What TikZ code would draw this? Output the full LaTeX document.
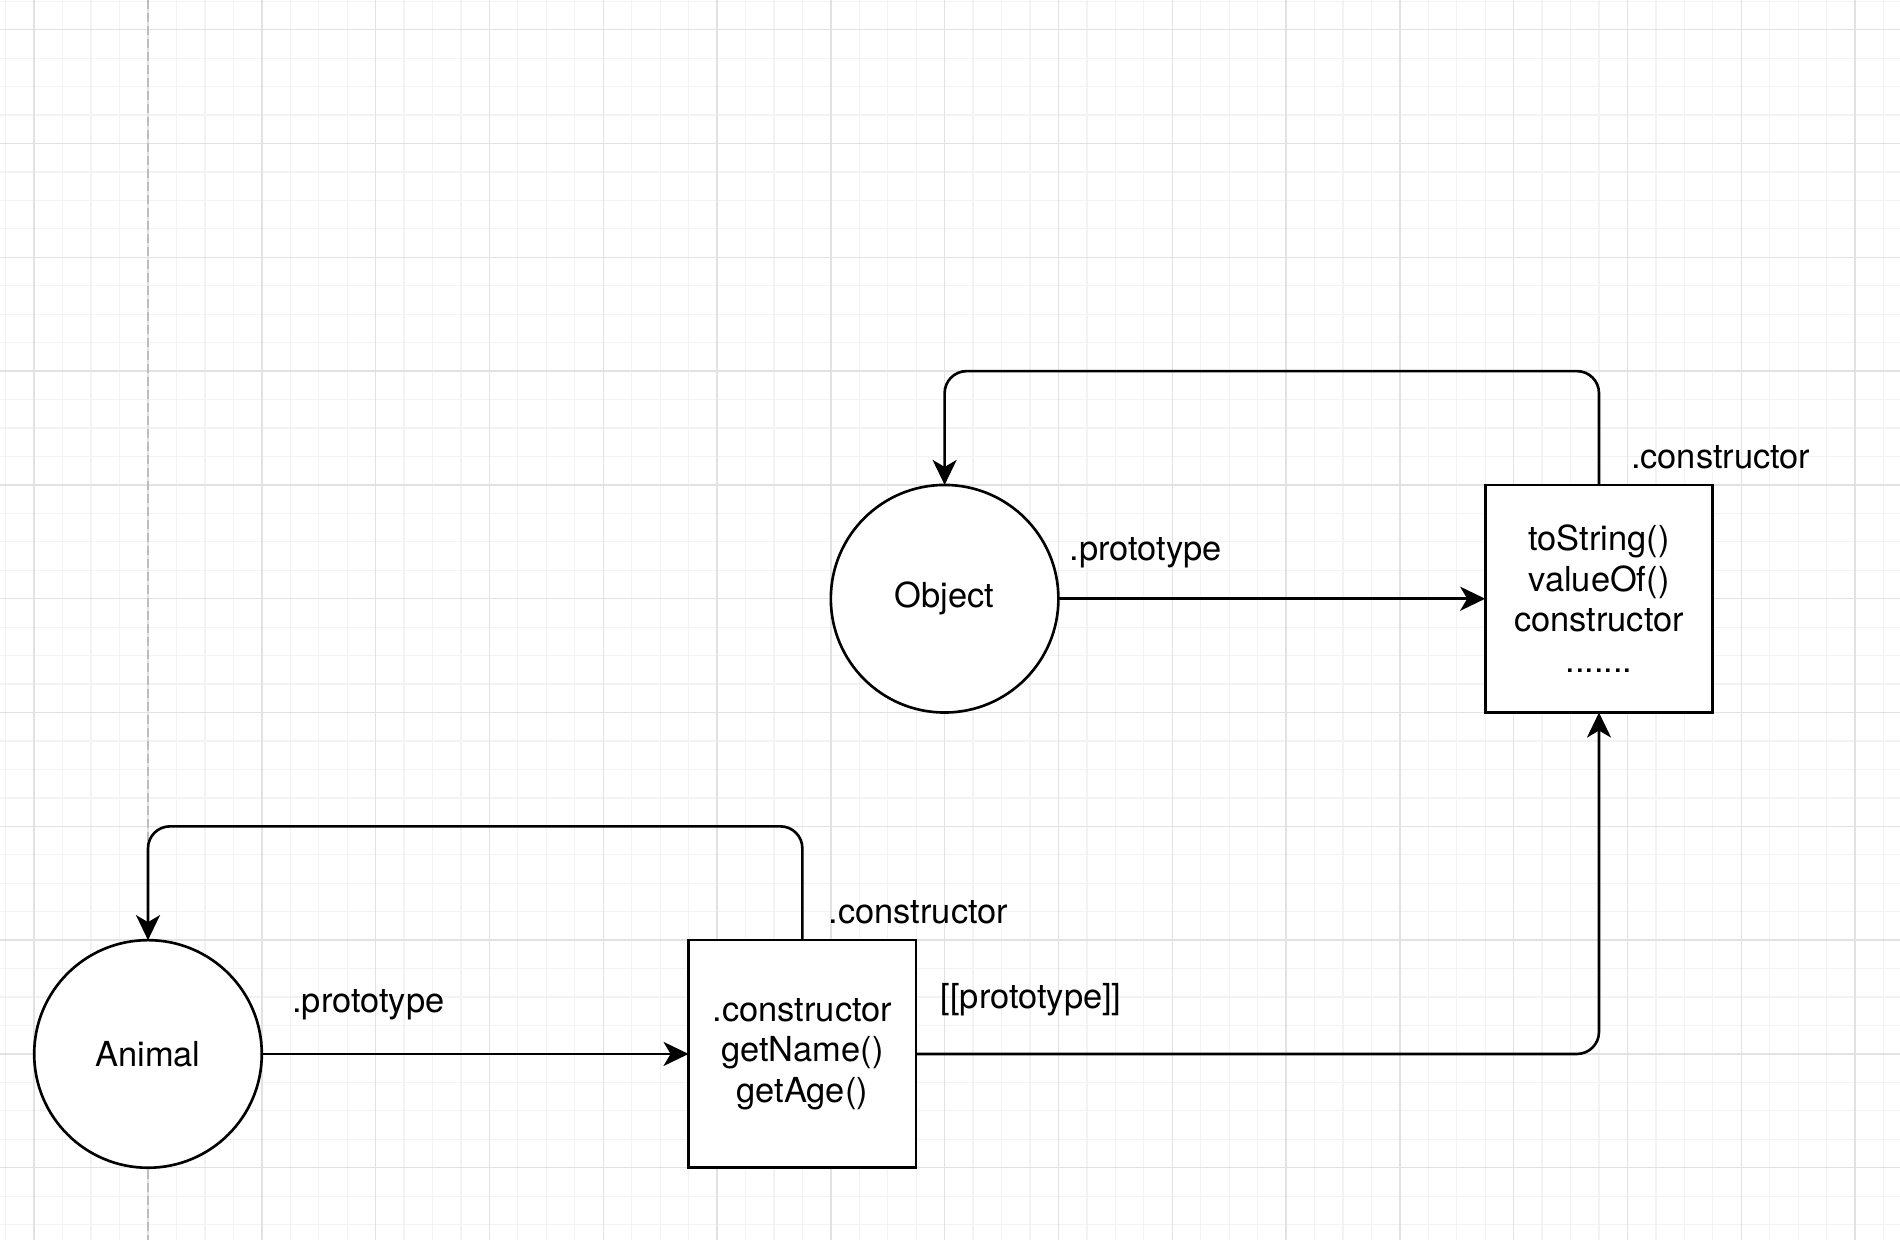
\documentclass[tikz,border=0pt]{standalone}
\usepackage{fontspec}
\setmainfont{TeX Gyre Heros}
\usetikzlibrary{arrows.meta}
\definecolor{gridminor}{HTML}{F3F3F3}
\definecolor{gridmajor}{HTML}{E2E2E2}
\definecolor{guide}{HTML}{BDBDBD}
\newcommand{\diagfont}{\fontsize{9.8pt}{11.55pt}\selectfont}
\begin{document}
\begin{tikzpicture}[x=0.2845cm, y=-0.2845cm,
  lbl/.style={font=\diagfont, inner sep=0pt, anchor=base west},
  ctor/.style={circle, draw, line width=0.75pt, fill=white, minimum size=2.276cm, inner sep=0pt, outer sep=0pt,
    font=\diagfont},
  protobox/.style={rectangle, draw, line width=0.75pt, fill=white, minimum size=2.276cm, inner sep=0pt, outer sep=0pt,
    align=center, font=\diagfont},
  link/.style={draw, line width=0.75pt, rounded corners=0.22cm,
    -{Stealth[length=0.25cm, width=0.24cm, inset=0.07cm]}}]
  % canvas and background grid
  \useasboundingbox (-1.202,-1.044) rectangle (65.58,42.54);
  \fill[white] (-1.202,-1.044) rectangle (65.58,42.54);
  \foreach \k in {-1,...,65} {\draw[gridminor, line width=0.35pt] (\k,-1.044) -- (\k,42.54);}
  \foreach \k in {-1,...,42} {\draw[gridminor, line width=0.35pt] (-1.202,\k) -- (65.58,\k);}
  \foreach \k in {0,4,...,64} {\draw[gridmajor, line width=0.4pt] (\k,-1.044) -- (\k,42.54);}
  \foreach \k in {0,4,...,40} {\draw[gridmajor, line width=0.4pt] (-1.202,\k) -- (65.58,\k);}
  % page guide
  \draw[guide, line width=0.7pt, dash pattern=on 0.09cm off 0.04cm] (4,-1.044) -- (4,42.54);

  % nodes
  \node[ctor] (object) at (32,20) {Object};
  \node[protobox] (objproto) at (55,20) {toString()\\valueOf()\\constructor\\.......};
  \node[ctor] (animal) at (4,36) {Animal};
  \node[protobox] (aniproto) at (27,36) {.constructor\\getName()\\getAge()};

  \coordinate (objloop) at (43.5,12);
  \coordinate (aniloop) at (15.5,28);

  % connectors
  \draw[link] (object.east) -- (objproto.west);
  \draw[link] (objproto.north) |- (objloop) -| (object.north);
  \draw[link] (animal.east) -- (aniproto.west);
  \draw[link] (aniproto.north) |- (aniloop) -| (animal.north);
  \draw[link] (aniproto.east) -| (objproto.south);

  % labels
  \node[lbl] (l1) at (56.1,15.44) {.constructor};
  \node[lbl] (l2) at (36.37,18.66) {.prototype};
  \node[lbl] (l3) at (27.9,31.43) {.constructor};
  \node[lbl] (l4) at (31.84,34.39) {[[prototype]]};
  \node[lbl] (l5) at (9.05,34.56) {.prototype};
\end{tikzpicture}
\end{document}
